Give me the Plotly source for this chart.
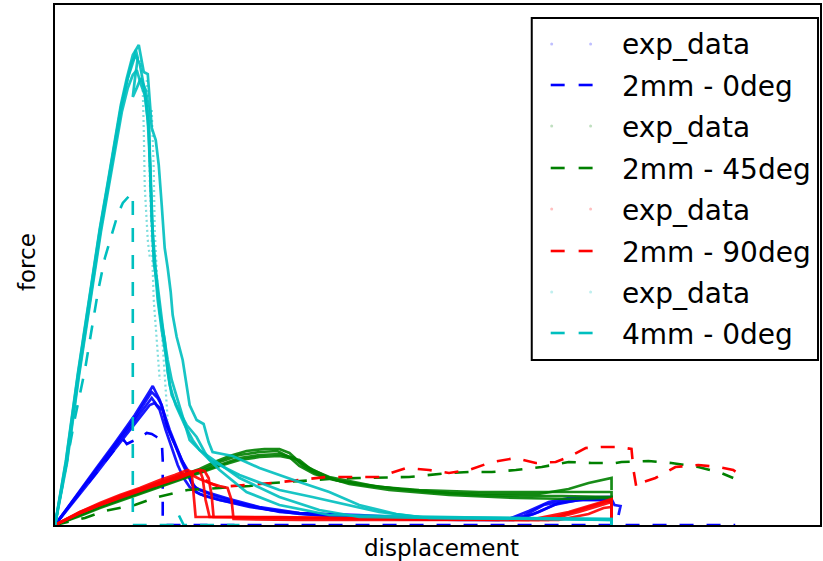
import plotly.graph_objects as go

# ---------------- data (displacement [mm], force [N]) ----------------
# 2mm - 0deg experiments
b_exp_1 = [(0,0),(0.20,28),(0.40,55),(0.60,82),(0.80,110),(0.95,134),(0.98,139),(1.01,133),(1.05,125),(1.10,110),(1.15,95),(1.21,80),(1.27,65),(1.33,55),(1.37,42),(1.41,33),(1.50,29),(1.65,25),(1.85,21),(2.15,15),(2.45,12),(3.05,10),(3.65,7),(4.55,6),(4.75,14),(4.95,23),(5.15,27),(5.58,28),(5.58,0)]
b_exp_2 = [(0,0),(0.20,27),(0.40,54),(0.60,80),(0.80,107),(0.93,127),(0.97,133),(1.03,127),(1.07,120),(1.12,100),(1.18,85),(1.25,70),(1.31,57),(1.35,47),(1.41,37),(1.55,32),(1.75,26),(2.05,18),(2.45,12),(3.05,9),(3.85,6),(4.65,6),(4.85,13),(5.05,22),(5.35,26),(5.58,26),(5.61,20),(5.67,19),(5.65,10)]
b_exp_3 = [(0,0),(0.20,27),(0.40,53),(0.60,78),(0.80,104),(0.94,123),(0.97,127),(1.02,120),(1.08,115),(1.13,97),(1.20,81),(1.27,63),(1.33,50),(1.38,40),(1.45,35),(1.60,29),(1.85,22),(2.25,13),(2.75,9),(3.45,6),(4.45,5),(4.70,9),(4.90,20),(5.15,25),(5.58,25),(5.58,5)]
b_exp_4 = [(0,0),(0.21,26),(0.41,51),(0.61,77),(0.81,102),(0.95,120),(1.00,122),(1.05,115),(1.11,95),(1.17,77),(1.23,60),(1.29,47),(1.35,38),(1.45,31),(1.65,25),(1.95,18),(2.45,11),(3.05,7),(4.05,5),(4.60,5),(4.80,11),(5.00,20),(5.25,25),(5.50,25),(5.58,23),(5.58,0)]
b_sim = [(0,0),(0.15,20),(0.30,38),(0.45,57),(0.57,72),(0.65,82),(0.69,85),(0.72,81),(0.76,83),(0.85,87),(0.92,92),(0.97,91),(1.02,88),(1.07,85),(1.08,65),(1.08,0),(6.82,0)]

# 2mm - 45deg experiments
g_exp_1 = [(0,0),(0.25,11),(0.45,19),(0.65,27),(0.85,35),(1.05,42),(1.25,49),(1.45,56),(1.60,63),(1.75,69),(1.92,74),(2.10,76),(2.25,76),(2.35,72),(2.45,63),(2.58,55),(2.75,48),(2.95,44),(3.25,38),(3.75,33),(4.25,30),(4.75,29),(5.08,29),(5.58,28),(5.58,25)]
g_exp_2 = [(0,0),(0.25,10),(0.45,18),(0.65,26),(0.85,33),(1.05,40),(1.25,47),(1.45,54),(1.65,63),(1.85,70),(2.05,73),(2.23,74),(2.35,68),(2.45,59),(2.60,51),(2.80,45),(3.05,41),(3.45,36),(3.95,32),(4.45,31),(4.85,31),(5.15,36),(5.35,42),(5.58,47),(5.58,35)]
g_exp_3 = [(0,0),(0.25,10),(0.45,18),(0.65,25),(0.85,32),(1.05,39),(1.25,46),(1.45,53),(1.65,60),(1.85,67),(2.05,70),(2.25,71),(2.40,67),(2.50,58),(2.65,50),(2.85,44),(3.15,39),(3.65,35),(4.25,33),(4.85,33),(5.25,33),(5.58,33),(5.58,28)]
g_exp_4 = [(0,0),(0.25,9),(0.45,17),(0.65,24),(0.85,31),(1.05,38),(1.25,45),(1.45,52),(1.65,59),(1.85,65),(2.05,68),(2.25,69),(2.45,65),(2.55,57),(2.75,47),(2.95,41),(3.35,35),(3.95,30),(4.65,27),(5.15,26),(5.58,27),(5.58,25)]
g_sim = [(0,0),(0.30,7),(0.50,14),(0.80,20),(1.03,28),(1.33,35),(1.65,37),(1.95,39),(2.18,42),(2.45,44),(2.75,46),(3.05,47),(3.55,48),(3.95,52),(4.15,53),(4.38,53),(4.62,55),(4.88,58),(5.15,63),(5.38,62),(5.62,62),(5.68,63),(5.95,64),(6.18,62),(6.45,58),(6.68,52),(6.80,47)]

# 2mm - 90deg experiments
r_exp_1 = [(0,0),(0.25,13),(0.45,22),(0.65,30),(0.85,37),(1.05,45),(1.20,50),(1.33,55),(1.37,53),(1.38,40),(1.39,25),(1.41,8),(1.85,8),(2.45,7),(3.05,7),(3.95,6),(4.85,5),(5.05,9),(5.35,18),(5.58,25),(5.58,0)]
r_exp_2 = [(0,0),(0.25,12),(0.45,20),(0.65,28),(0.85,35),(1.05,42),(1.25,49),(1.41,54),(1.45,55),(1.48,47),(1.51,25),(1.55,8),(2.25,8),(3.45,6),(4.75,5),(5.15,13),(5.45,22),(5.58,26),(5.58,5)]
r_exp_3 = [(0,0),(0.25,13),(0.45,21),(0.65,29),(0.85,36),(1.05,43),(1.25,50),(1.45,55),(1.50,54),(1.54,47),(1.57,30),(1.59,8),(2.45,7),(3.65,6),(4.95,5),(5.25,13),(5.58,23),(5.58,0)]
r_exp_4 = [(0,0),(0.25,12),(0.45,20),(0.65,27),(0.85,34),(1.05,41),(1.25,47),(1.35,51),(1.45,46),(1.55,42),(1.65,39),(1.73,37),(1.77,25),(1.79,6),(2.45,5),(3.95,5),(5.05,5),(5.35,11),(5.50,17),(5.58,18),(5.58,0)]
r_sim = [(0,0),(0.25,12),(0.45,20),(0.75,31),(1.05,41),(1.35,52),(1.45,49),(1.55,42),(1.65,38),(1.95,40),(2.18,42),(2.45,45),(2.72,48),(2.98,48),(3.25,48),(3.52,57),(3.75,55),(3.95,52),(4.15,55),(4.38,63),(4.62,67),(4.82,62),(5.02,63),(5.15,68),(5.32,77),(5.48,78),(5.65,78),(5.78,76),(5.80,55),(5.83,37),(5.90,43),(6.02,47),(6.22,58),(6.45,60),(6.65,58),(6.80,55),(6.90,48)]

# 4mm - 0deg experiments
c_exp_1 = [(0,0),(0.11,65),(0.23,152),(0.35,233),(0.45,297),(0.53,343),(0.60,385),(0.66,420),(0.72,447),(0.78,470),(0.84,480),(0.86,470),(0.89,453),(0.93,451),(0.95,425),(0.97,397),(1.01,385),(1.04,360),(1.07,320),(1.10,277),(1.13,257),(1.16,233),(1.18,210),(1.22,188),(1.28,165),(1.31,145),(1.35,120),(1.42,105),(1.49,101),(1.54,83),(1.58,73),(1.78,69),(2.05,57),(2.45,43),(2.75,33),(3.05,20),(3.42,11),(3.75,7),(5.58,6),(5.58,0)]
c_exp_2 = [(0,0),(0.12,65),(0.24,152),(0.36,233),(0.46,297),(0.54,343),(0.61,385),(0.67,420),(0.73,447),(0.79,465),(0.81,475),(0.83,467),(0.80,445),(0.78,428),(0.82,437),(0.86,447),(0.91,435),(0.94,415),(0.95,375),(0.97,325),(0.99,263),(1.02,243),(1.05,213),(1.10,185),(1.13,153),(1.17,130),(1.25,113),(1.32,100),(1.42,88),(1.50,73),(1.55,65),(1.85,50),(2.25,35),(2.58,28),(3.05,18),(3.25,13),(3.65,8),(5.58,6),(5.58,0)]
c_exp_3 = [(0,0),(0.11,63),(0.23,150),(0.35,231),(0.45,295),(0.53,341),(0.60,383),(0.66,417),(0.72,443),(0.77,463),(0.81,469),(0.85,461),(0.88,445),(0.91,425),(0.94,395),(0.96,345),(0.98,285),(1.00,260),(1.03,225),(1.07,195),(1.11,170),(1.15,140),(1.21,120),(1.30,100),(1.38,85),(1.45,75),(1.85,47),(2.25,28),(2.65,15),(3.05,8),(5.58,5),(5.58,0)]
c_exp_4 = [(0,0),(0.12,62),(0.24,149),(0.36,229),(0.46,293),(0.54,339),(0.61,380),(0.67,413),(0.73,437),(0.78,450),(0.82,455),(0.86,441),(0.90,430),(0.93,405),(0.95,365),(0.97,305),(1.01,255),(1.05,220),(1.09,190),(1.13,165),(1.17,145),(1.23,125),(1.29,105),(1.35,85),(1.65,55),(1.92,33),(2.25,20),(2.75,10),(5.58,5),(5.58,0)]
c_pts_1 = [(0.86,465),(0.88,435),(0.89,395),(0.90,338),(0.93,285),(0.95,268)]
c_pts_2 = [(0.92,445),(0.94,405),(0.95,345),(0.97,285),(0.99,225),(1.02,185),(1.05,145)]
c_pts_3 = [(0.97,415),(0.99,355),(1.00,295),(1.03,235),(1.07,195),(1.10,145),(1.13,105)]
c_sim = [(0,0),(0.10,55),(0.20,107),(0.30,155),(0.37,199),(0.43,233),(0.50,267),(0.57,291),(0.63,311),(0.68,322),(0.73,328),(0.77,332),(0.78,325),(0.78,0),(1.21,0),(1.24,10),(1.29,0),(1.85,0)]

legend_labels = ["exp_data", "2mm - 0deg", "exp_data", "2mm - 45deg",
                 "exp_data", "2mm - 90deg", "exp_data", "4mm - 0deg"]

groups = [
    ("#0000FF", [b_exp_1, b_exp_2, b_exp_3, b_exp_4], [], b_sim),
    ("#008000", [g_exp_1, g_exp_2, g_exp_3, g_exp_4], [], g_sim),
    ("#FF0000", [r_exp_1, r_exp_2, r_exp_3, r_exp_4], [], r_sim),
    ("#00BFBF", [c_exp_1, c_exp_2, c_exp_3, c_exp_4], [c_pts_1, c_pts_2, c_pts_3], c_sim),
]

# ---------------- figure ----------------
W, H = 823, 561
L, R, T, B = 55, 1, 5, 36
PW, PH = W - L - R, H - T - B
XMAX, YMAX = 7.67, 520

def px(x):
    return (x - L) / PW

def py(y):
    return (H - B - y) / PH

fig = go.Figure()
DASH = "14px,13px"
for color, exps, pts, sim in groups:
    for cur in pts:
        fig.add_trace(go.Scatter(x=[p[0] for p in cur], y=[p[1] for p in cur], mode="lines",
                                 line=dict(color=color, width=2.2, dash="2px,3px"), opacity=0.5,
                                 showlegend=False, hoverinfo="skip"))
    for cur in exps:
        fig.add_trace(go.Scatter(x=[p[0] for p in cur], y=[p[1] for p in cur], mode="lines",
                                 line=dict(color=color, width=2.7), opacity=0.9,
                                 showlegend=False, hoverinfo="skip"))
    fig.add_trace(go.Scatter(x=[p[0] for p in sim], y=[p[1] for p in sim], mode="lines",
                             line=dict(color=color, width=2.6, dash=DASH),
                             showlegend=False, hoverinfo="skip"))

axis_common = dict(showticklabels=False, ticks="", showgrid=False, zeroline=False,
                   showline=True, linecolor="black", linewidth=2, mirror=True)
fig.update_layout(
    width=W, height=H, margin=dict(l=L, r=R, t=T, b=B),
    paper_bgcolor="white", plot_bgcolor="white",
    font=dict(family="DejaVu Sans", color="black"),
    xaxis=dict(range=[0, XMAX], **axis_common),
    yaxis=dict(range=[0, YMAX], **axis_common),
    showlegend=False,
)

# manual legend (matplotlib-style)
shapes = [dict(type="rect", xref="paper", yref="paper",
               x0=px(533), x1=px(820), y0=py(18), y1=py(360),
               line=dict(color="black", width=2), fillcolor="white", layer="above")]
annotations = []
row_y = [44, 85, 126, 168, 209, 251, 292, 333]
colors = ["#0000FF", "#0000FF", "#008000", "#008000", "#FF0000", "#FF0000", "#00BFBF", "#00BFBF"]
for i, (lab, yy, col) in enumerate(zip(legend_labels, row_y, colors)):
    if i % 2 == 0:
        for xx in (553, 592):
            shapes.append(dict(type="circle", xref="paper", yref="paper",
                               x0=px(xx - 1.5), x1=px(xx + 1.5), y0=py(yy + 1.5), y1=py(yy - 1.5),
                               line=dict(width=0), fillcolor=col, opacity=0.25, layer="above"))
    else:
        for x0, x1 in ((552, 566), (580, 594)):
            shapes.append(dict(type="line", xref="paper", yref="paper",
                               x0=px(x0), x1=px(x1), y0=py(yy), y1=py(yy),
                               line=dict(color=col, width=2.6), layer="above"))
    annotations.append(dict(text=lab, xref="paper", yref="paper", x=px(621), y=py(yy + 1),
                            xanchor="left", yanchor="middle", showarrow=False,
                            font=dict(size=28, family="DejaVu Sans", color="black")))

annotations.append(dict(text="displacement", xref="paper", yref="paper", x=px(443), y=py(548),
                        xanchor="center", yanchor="middle", showarrow=False,
                        font=dict(size=23, family="DejaVu Sans")))
annotations.append(dict(text="force", xref="paper", yref="paper", x=px(27), y=py(262),
                        xanchor="center", yanchor="middle", showarrow=False, textangle=-90,
                        font=dict(size=23, family="DejaVu Sans")))
fig.update_layout(shapes=shapes, annotations=annotations)

fig.write_html("out.html")
